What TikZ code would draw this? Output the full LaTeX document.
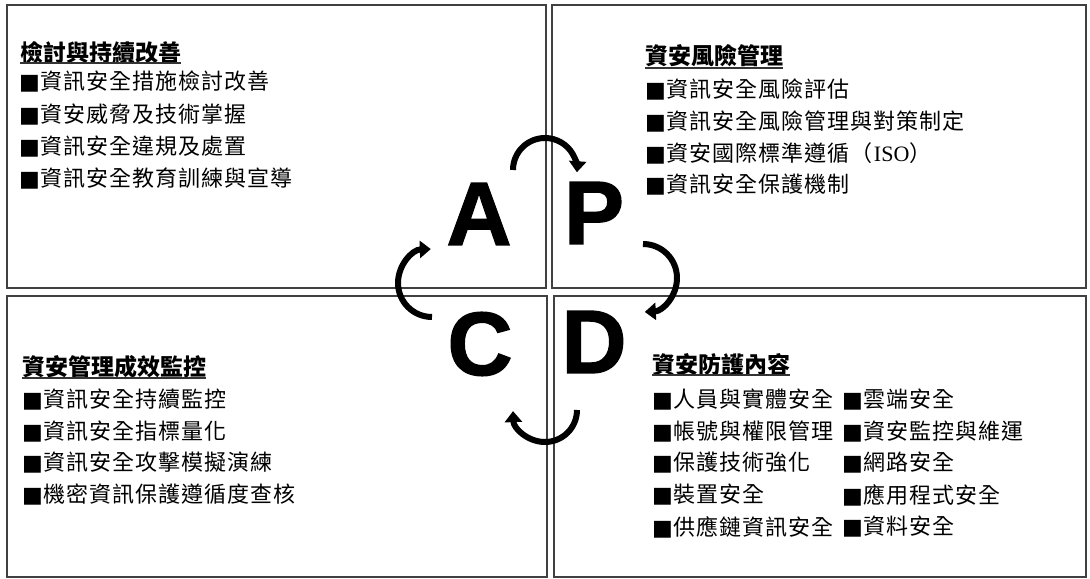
\documentclass[tikz,border=0pt]{standalone}
\usepackage{fontspec}
\usetikzlibrary{arrows.meta,calc}
\newfontfamily\cjk{Noto Sans CJK TC}
\newfontfamily\sqfont{DejaVu Sans}
\newfontfamily\isofont{Liberation Serif}
\newfontfamily\pdcafont[UprightFont={* Bold},FakeBold=1.5]{Liberation Sans}
\makeatletter
\newcommand\spc[1]{\spc@go#1\spc@end}
\def\spc@go#1{\ifx#1\spc@end\else#1\kern1bp\expandafter\spc@go\fi}
\makeatother
\newcommand\sq{{\sqfont ■}\kern1bp}
\begin{document}
\begin{tikzpicture}[x=1bp,y=-1bp,
  box/.style={draw=black!75,line width=1.4bp},
  ttl/.style={anchor=west,inner sep=0pt,font=\cjk\bfseries\fontsize{23bp}{23bp}\selectfont},
  uline/.style={line width=1.3bp,draw=black!80},
  itm/.style={anchor=west,inner sep=0pt,font=\cjk\fontsize{22bp}{22bp}\selectfont},
  letter/.style={inner sep=0pt,font=\pdcafont\fontsize{90bp}{90bp}\selectfont},
  cyc/.style={line width=6bp,draw=black,-{Triangle[width=17bp,length=11bp]}}]
\useasboundingbox (0,0) rectangle (1090,579);
% boxes
\draw[box] (7,5) rectangle (546,288);
\draw[box] (552,5) rectangle (1086,288);
\draw[box] (7,296) rectangle (547,577);
\draw[box] (554,296) rectangle (1086,577);
% big letters
\node[letter] (A) at (479,214) {A};
\node[letter] (P) at (594,213) {P};
\node[letter] (C) at (480,344) {C};
\node[letter] (D) at (594,342) {D};
% cycle arrows
\coordinate (ctop) at (545,170);
\coordinate (cright) at (643,278);
\coordinate (cbot) at (545,410);
\coordinate (cleft) at (432,283);
\draw[cyc] ([shift={(180:32)}]ctop) arc[start angle=180,end angle=364,radius=32];
\draw[cyc] ([shift={(270:34)}]cright) arc[start angle=270,end angle=447,radius=34];
\draw[cyc] ([shift={(0:32)}]cbot) arc[start angle=0,end angle=178,radius=32];
\draw[cyc] ([shift={(90:34)}]cleft) arc[start angle=90,end angle=268,radius=34];
% top-left
\node[ttl] (tlt) at (20,53) {檢討與持續改善};
\draw[uline] ($(tlt.west)+(0,10)$) -- ($(tlt.east)+(0,10)$);
\node[itm] (tl1) at (19,82) {\sq\spc{資訊安全措施檢討改善}};
\node[itm] (tl2) at (19,115) {\sq\spc{資安威脅及技術掌握}};
\node[itm] (tl3) at (19,147) {\sq\spc{資訊安全違規及處置}};
\node[itm] (tl4) at (19,178) {\sq\spc{資訊安全教育訓練與宣導}};
% top-right
\node[ttl] (trt) at (645,56) {資安風險管理};
\draw[uline] ($(trt.west)+(0,12)$) -- ($(trt.east)+(0,12)$);
\node[itm] (tr1) at (645,90) {\sq\spc{資訊安全風險評估}};
\node[itm] (tr2) at (645,122) {\sq\spc{資訊安全風險管理與對策制定}};
\node[itm] (tr3) at (645,153) {\sq\spc{資安國際標準遵循（}{\isofont ISO}）};
\node[itm] (tr4) at (645,185) {\sq\spc{資訊安全保護機制}};
% bottom-left
\node[ttl] (blt) at (22,367) {資安管理成效監控};
\draw[uline] ($(blt.west)+(0,11)$) -- ($(blt.east)+(0,11)$);
\node[itm] (bl1) at (22,400) {\sq\spc{資訊安全持續監控}};
\node[itm] (bl2) at (22,432) {\sq\spc{資訊安全指標量化}};
\node[itm] (bl3) at (22,463) {\sq\spc{資訊安全攻擊模擬演練}};
\node[itm] (bl4) at (22,495) {\sq\spc{機密資訊保護遵循度查核}};
% bottom-right
\node[ttl] (brt) at (652,365) {資安防護內容};
\draw[uline] ($(brt.west)+(0,10)$) -- ($(brt.east)+(0,10)$);
\node[itm] (br1) at (652,400) {\sq\spc{人員與實體安全}};
\node[itm] (br2) at (652,432) {\sq\spc{帳號與權限管理}};
\node[itm] (br3) at (652,463) {\sq\spc{保護技術強化}};
\node[itm] (br4) at (652,495) {\sq\spc{裝置安全}};
\node[itm] (br5) at (652,527) {\sq\spc{供應鏈資訊安全}};
\node[itm] (br6) at (842,400) {\sq\spc{雲端安全}};
\node[itm] (br7) at (842,432) {\sq\spc{資安監控與維運}};
\node[itm] (br8) at (842,463) {\sq\spc{網路安全}};
\node[itm] (br9) at (842,495) {\sq\spc{應用程式安全}};
\node[itm] (br10) at (842,527) {\sq\spc{資料安全}};
\end{tikzpicture}
\end{document}
